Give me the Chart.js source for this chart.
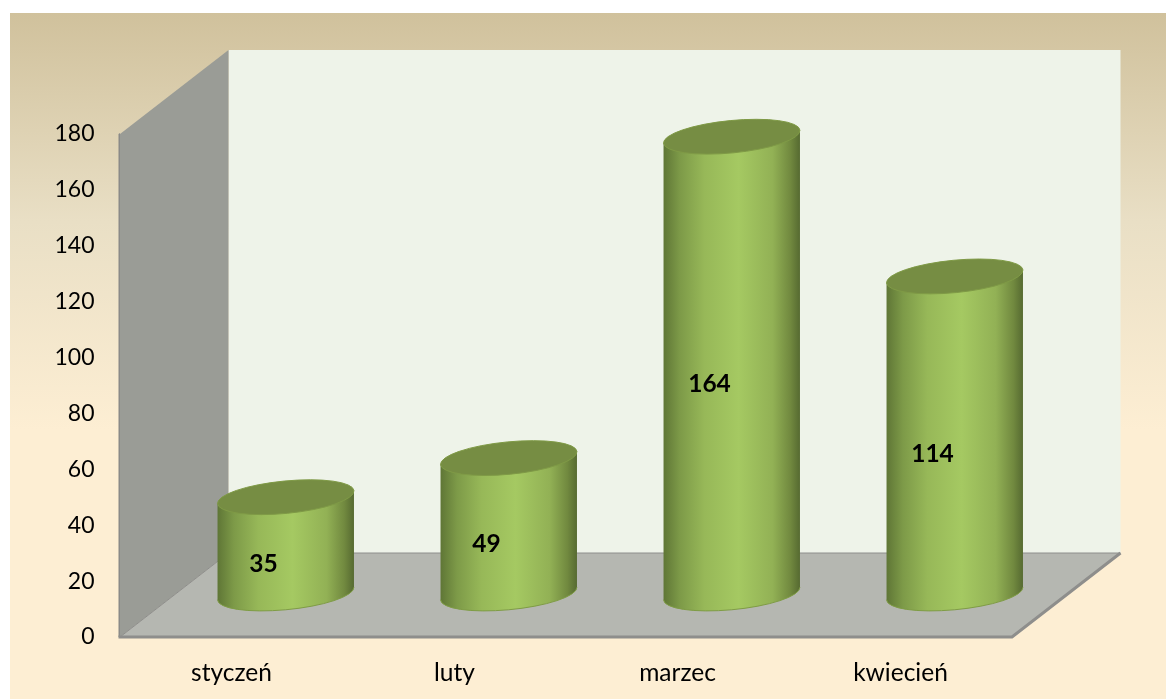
<!DOCTYPE html>
<html>
<head>
<meta charset="utf-8">
<title>Wykres</title>
<style>
  html, body { margin: 0; padding: 0; background: #fff; overflow: hidden; }
  canvas { display: block; }
</style>
<script src="https://cdn.jsdelivr.net/npm/chart.js@4"></script>
</head>
<body>
<canvas id="chart" width="1166" height="699"></canvas>
<script>
const months = ['styczeń', 'luty', 'marzec', 'kwiecień'];
const counts = [35, 49, 164, 114];
const axisMax = 180;
const axisStep = 20;

// depth of the fake 3D box, cylinders stand halfway in
const depthX = 108.5;
const depthY = -84;

function poly(ctx, pts, fill) {
  ctx.beginPath();
  pts.forEach((p, i) => i ? ctx.lineTo(p[0], p[1]) : ctx.moveTo(p[0], p[1]));
  ctx.closePath();
  ctx.fillStyle = fill;
  ctx.fill();
}

const backdrop = {
  id: 'backdrop',
  beforeDraw(chart) {
    const ctx = chart.ctx;
    const { left, right, top, bottom } = chart.chartArea;
    const bx = left + depthX, tx = right + depthX;
    const wallTop = top + depthY;
    const wallBottom = bottom + depthY;

    const bg = ctx.createLinearGradient(0, 13, 0, 430);
    bg.addColorStop(0, '#d0c19c');
    bg.addColorStop(0.5, '#e9dfc5');
    bg.addColorStop(1, '#fdeed3');
    ctx.fillStyle = bg;
    ctx.fillRect(10, 13, chart.width - 10, chart.height - 13);

    ctx.fillStyle = '#eef3e9';
    ctx.fillRect(bx, wallTop, tx - bx, wallBottom - wallTop);

    // side wall
    poly(ctx, [[left, top], [bx, wallTop], [bx, wallBottom], [left, bottom]], '#9a9c96');
    poly(ctx, [[left - 1.5, top], [left, top - 1], [left, bottom], [left - 1.5, bottom]], '#8a8a88');

    // floor
    poly(ctx, [[left, bottom], [bx, wallBottom], [tx, wallBottom], [right, bottom]], '#b5b7b1');
    ctx.strokeStyle = '#8e8e8c';
    ctx.lineWidth = 1;
    ctx.beginPath();
    ctx.moveTo(left, bottom);
    ctx.lineTo(bx, wallBottom);
    ctx.lineTo(tx, wallBottom);
    ctx.stroke();
    ctx.lineWidth = 3;
    ctx.beginPath();
    ctx.moveTo(left - 1.5, bottom);
    ctx.lineTo(right, bottom);
    ctx.lineTo(tx, wallBottom);
    ctx.stroke();
  }
};

const cylinders = {
  id: 'cylinders',
  afterDatasetsDraw(chart) {
    const ctx = chart.ctx;
    const bars = chart.getDatasetMeta(0).data;
    const rot = -5.5 * Math.PI / 180;
    const minor = 16.2;

    bars.forEach((bar, i) => {
      const major = bar.width / 2 + 0.5;
      const cx = bar.x + depthX / 2;
      const topY = bar.y + depthY / 2;
      const baseY = bar.base + depthY / 2 - 1.5;
      // where the sides touch the tilted ellipse
      const t = Math.atan2(-minor * Math.sin(rot), major * Math.cos(rot));
      const ex = major * Math.cos(t) * Math.cos(rot) - minor * Math.sin(t) * Math.sin(rot);
      const ey = major * Math.cos(t) * Math.sin(rot) + minor * Math.sin(t) * Math.cos(rot);

      const g = ctx.createLinearGradient(cx - ex, 0, cx + ex, 0);
      g.addColorStop(0, '#5f7636');
      g.addColorStop(0.12, '#7d9a48');
      g.addColorStop(0.3, '#97b858');
      g.addColorStop(0.55, '#a5c962');
      g.addColorStop(0.8, '#92b155');
      g.addColorStop(0.93, '#71893f');
      g.addColorStop(1, '#566a31');

      ctx.beginPath();
      ctx.moveTo(cx - ex, topY - ey);
      ctx.lineTo(cx + ex, topY + ey);
      ctx.lineTo(cx + ex, baseY + ey);
      ctx.ellipse(cx, baseY, major, minor, rot, t, t + Math.PI);
      ctx.closePath();
      ctx.fillStyle = g;
      ctx.fill();
      ctx.strokeStyle = '#7f9c45';
      ctx.lineWidth = 1;
      ctx.beginPath();
      ctx.ellipse(cx, baseY, major, minor, rot, t, t + Math.PI);
      ctx.stroke();

      ctx.beginPath();
      ctx.ellipse(cx, topY, major, minor, rot, 0, Math.PI * 2);
      ctx.fillStyle = '#768d43';
      ctx.fill();
      ctx.strokeStyle = '#7f9a46';
      ctx.stroke();

      ctx.fillStyle = '#000';
      ctx.font = 'bold 24.5px Lato';
      ctx.textAlign = 'center';
      ctx.textBaseline = 'middle';
      ctx.fillText(counts[i], bar.x + 32, (bar.y + bar.base) / 2 - 24);
    });
  }
};

new Chart(document.getElementById('chart'), {
  type: 'bar',
  data: {
    labels: months,
    datasets: [{
      data: counts,
      backgroundColor: 'rgba(0,0,0,0)',
      categoryPercentage: 1,
      barPercentage: 0.61
    }]
  },
  options: {
    responsive: false,
    animation: false,
    layout: { padding: { left: 0, right: 154, top: 134, bottom: 0 } },
    plugins: {
      legend: { display: false },
      tooltip: { enabled: false }
    },
    scales: {
      x: {
        afterFit: s => { s.height = 62; },
        grid: { display: false, drawTicks: false },
        border: { display: false },
        ticks: { color: '#000', padding: 21, font: { family: 'Lato', size: 24.5 }, maxRotation: 0 }
      },
      y: {
        min: 0,
        max: axisMax,
        afterFit: s => { s.width = 120; },
        grid: { display: false, drawTicks: false },
        border: { display: false },
        ticks: { color: '#000', padding: 25.5, stepSize: axisStep, font: { family: 'Lato', size: 23 } }
      }
    }
  },
  plugins: [backdrop, cylinders]
});
</script>
</body>
</html>
